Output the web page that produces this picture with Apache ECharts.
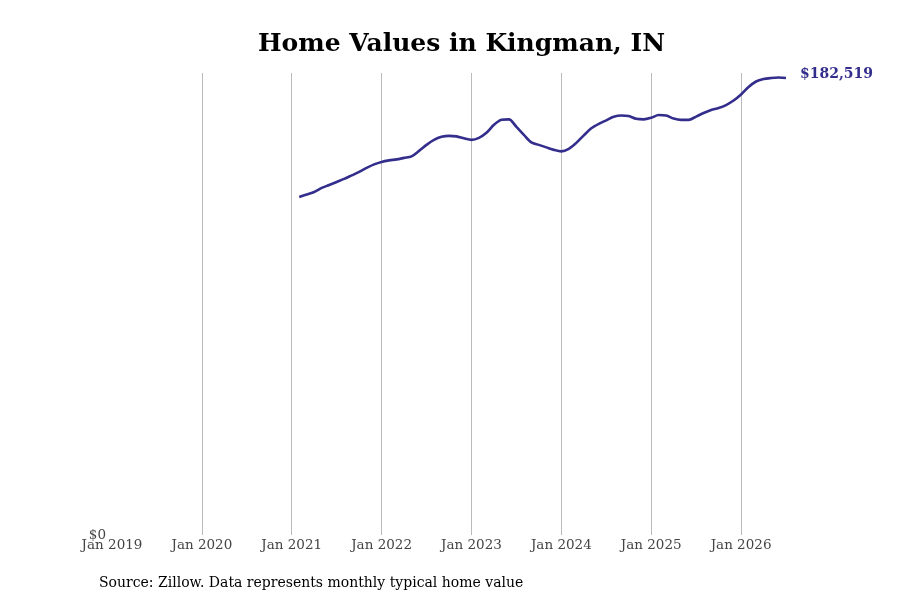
<!DOCTYPE html>
<html>
<head>
<meta charset="utf-8">
<script src="https://cdn.jsdelivr.net/npm/echarts@6/dist/echarts.min.js"></script>
<style>
	html, body { margin: 0; padding: 0; background: #fff; }
	#chart { width: 900px; height: 600px; }
</style>
</head>
<body>
<div id="chart"></div>
<script>
	// monthly typical home value, Feb 2021 .. Jul 2026
	var months = [
		'2021-02', '2021-03', '2021-04', '2021-05', '2021-06', '2021-07', '2021-08', '2021-09', '2021-10', '2021-11', '2021-12',
		'2022-01', '2022-02', '2022-03', '2022-04', '2022-05', '2022-06', '2022-07', '2022-08', '2022-09', '2022-10', '2022-11', '2022-12',
		'2023-01', '2023-02', '2023-03', '2023-04', '2023-05', '2023-06', '2023-07', '2023-08', '2023-09', '2023-10', '2023-11', '2023-12',
		'2024-01', '2024-02', '2024-03', '2024-04', '2024-05', '2024-06', '2024-07', '2024-08', '2024-09', '2024-10', '2024-11', '2024-12',
		'2025-01', '2025-02', '2025-03', '2025-04', '2025-05', '2025-06', '2025-07', '2025-08', '2025-09', '2025-10', '2025-11', '2025-12',
		'2026-01', '2026-02', '2026-03', '2026-04', '2026-05', '2026-06', '2026-07'
	];
	var values = [
		135000, 136000, 137000, 138600, 139800, 141000, 142200, 143600, 145000, 146600, 148000,
		149000, 149600, 150000, 150600, 151200, 153400, 155800, 157800, 159000, 159400, 159200, 158400,
		157800, 158600, 160600, 163800, 165800, 166000, 163000, 159800, 156800, 155800, 154800, 153800,
		153200, 154200, 156600, 159600, 162400, 164200, 165600, 167000, 167500, 167300, 166200, 166000,
		166600, 167700, 167500, 166300, 165800, 165800, 167100, 168500, 169700, 170500, 171700, 173500,
		175900, 178900, 181100, 182100, 182500, 182700, 182519
	];
	var startYear = 2019;
	var endMonth = '2026-07';

	function monthIndex(s) {
		var p = s.split('-');
		return (parseInt(p[0], 10) - startYear) * 12 + parseInt(p[1], 10) - 1;
	}

	var seriesData = months.map(function(m, i) {
		return [monthIndex(m), values[i]];
	});

	var font = 'DejaVu Serif';
	var lineColor = '#332e8c';

	var chart = echarts.init(document.getElementById('chart'));
	chart.setOption({
		animation: false,
		title: {
			text: 'Home Values in Kingman, IN',
			left: 253,
			top: 27,
			textStyle: { fontFamily: font, fontSize: 25, fontWeight: 'bold', color: '#000' }
		},
		graphic: [{
			type: 'text',
			left: 99,
			top: 576,
			style: {
				text: 'Source: Zillow. Data represents monthly typical home value',
				font: '14px "DejaVu Serif"',
				fill: '#000'
			}
		}],
		grid: { left: 112, right: 114, top: 73, bottom: 65 },
		xAxis: {
			type: 'value',
			min: 0,
			max: monthIndex(endMonth),
			interval: 12,
			axisLine: { show: false },
			axisTick: { show: false },
			splitLine: { show: true, showMinLine: false, showMaxLine: false, lineStyle: { color: '#bbb', width: 1 } },
			axisLabel: {
				fontFamily: font,
				fontSize: 13.5,
				color: '#444',
				margin: 3,
				showMaxLabel: false,
				formatter: function(v) {
					return v % 12 === 0 ? 'Jan ' + (startYear + v / 12) : '';
				}
			}
		},
		yAxis: {
			type: 'value',
			min: 0,
			max: 184500,
			interval: 184500,
			axisLine: { show: false },
			axisTick: { show: false },
			splitLine: { show: false },
			axisLabel: {
				fontFamily: font,
				fontSize: 13.5,
				color: '#444',
				margin: 6,
				verticalAlign: 'middle',
				padding: [3, 0, 0, 0],
				formatter: function(v) { return v === 0 ? '$0' : ''; }
			}
		},
		series: [{
			type: 'line',
			data: seriesData,
			smooth: 0.3,
			showSymbol: false,
			lineStyle: { color: lineColor, width: 2.6 },
			endLabel: {
				show: true,
				distance: 14,
				offset: [0, -4],
				fontFamily: font,
				fontSize: 14,
				fontWeight: 'bold',
				color: lineColor,
				formatter: function(p) { return '$' + p.value[1].toLocaleString('en-US'); }
			}
		}]
	});
</script>
</body>
</html>
